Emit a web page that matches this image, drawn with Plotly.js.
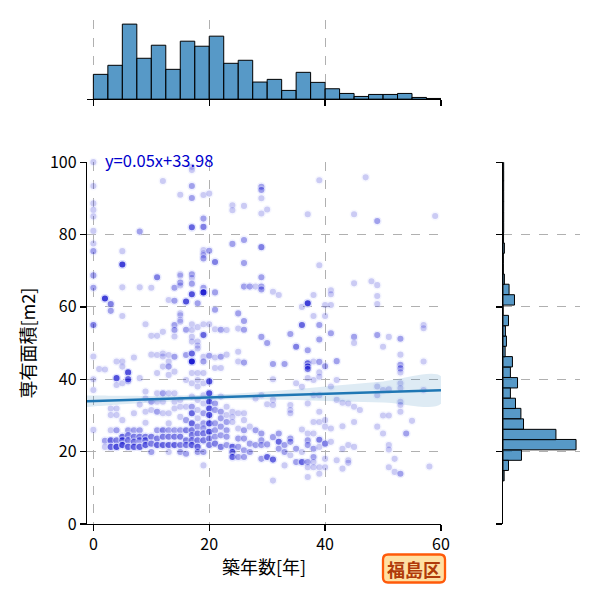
<!DOCTYPE html>
<html>
<head>
<meta charset="utf-8">
<script src="https://cdn.plot.ly/plotly-3.0.1.min.js"></script>
<style>html,body{margin:0;padding:0;background:#fff;}</style>
</head>
<body>
<div id="chart" style="width:600px;height:600px;"></div>
<script>
// ---- scatter data: building age (years) groups, areas (m2), and repeat counts of identical listings ----
const groupAge = [0,1,2,3,4,5,6,7,8,9,10,11,12,13,14,15,16,17,18,19,20,21,22,23,24,25,26,27,28,29,30,31,32,33,34,35,36,37,38,39,40,41,42,43,44,45,46,47,48,49,50,51,52,53,54,55,57,58,59];
const groupArea = [
 [100,93.4,88.6,86.8,85,81,77.5,75.4,68.7,65.3,55,46.3,40,37,26],
 [42.8],
 [62.3,42.7,23,21.3],
 [60.8,58.9,31.9,30.1,25.9,23.1,21.3],
 [44.9,40.3,38.4,31.9,30.1,25.9,23.1,21.3],
 [75.4,71.7,65.4,57.5,44.9,43.5,38.9,28.7,24.1,23.1,21.8],
 [41.9,40,39.4,25.9,24.5,23.1,21.3],
 [46,30.6,25.9,24.1,22.7,21.3],
 [80.8,65.4,40.3,33,25.9,24.1,23.1,21.3],
 [55.2,36.6,34.7,31,28,24.1,23.1,21.8],
 [65.3,52,46.8,33.8,31.5,24.1,22.2,19.9],
 [68.2,52,46.7,41.7,36.1,33.8,31,25.9,23.6,21.8],
 [94.8,53.1,47.1,46.3,43.5,36.1,33.8,30.6,25.9,24.1,21.8],
 [61.9,46.7,44.9,43.5,41.2,36.1,30.6,27.8,25.9,24.1,21.8,19.9],
 [65.3,61.7,55,53.6,51.8,46.2,42.1,36.1,33.8,31.9,25.9,24.1,21.8],
 [91,69,68.6,66.7,65.9,58.2,57.7,56.4,55.9,34.3,32.4,29.6,25.9,24.1,21.8,19.9],
 [61.5,53.7,46.7,39.8,32.4,28.7,25.9,23.1,21.8,19.4],
 [98.7,97.8,93.4,90.1,82,69,68,66.4,63.5,55.2,53.6,51.7,50.4,47.1,44.9,41.7,38.9,35.2,32.4,30.6,27.8,25.9,24.5,23.1,21.8],
 [61,54.4,50.4,49.3,48.5,41.7,39.8,38,34.3,31.5,29.2,26.9,25,23.1,21.3,19.9],
 [90.9,84.4,82.1,75.7,74.8,74.3,73.4,65.3,64,55.2,52.3,52.2,46.2,44.9,41.7,38.9,35.6,33.3,30.6,27.8,26.4,25,23.1,19.9,16.2],
 [91.3,75.5,55.2,46.5,39.4,36.1,33.8,31.9,30.1,27.8,25.5,23.6,21.8],
 [72.4,64,59.2,53.8,46,43.1,33.3,31.5,27.8,25.9,24.1,22.2],
 [53.7,46.2,43.1,35.2,31,29.2,26.9,24.5,21.3],
 [53.6,46.8,32.4,30.1,28.2,25.9,24.1,21.8],
 [88.1,86.7,77.4,31,29.6,28.2,21.3,19.9,18.5],
 [58.2,54,47.6,44.9,30.6,26.4,23.6,21.3,18.5],
 [87.9,78.5,72.1,65.6,56.1,53.7,44.6,30.6,28.7,25.9,23.6,20.4,18.5],
 [65.6,26.9,22.2,19.9],
 [65.6,34.7,25.9,21.8],
 [93.2,92.3,90,85.8,76.5,68.2,65.6,64.8,51.7,35.6,25,23.1,21.8,18],
 [86.9,50,33.1,22,18.5],
 [64.2,44.2,40,34.3,32.9,24,17.8,12],
 [63.3,25,22.7,20.8],
 [44.2,21.8,19.9,16.2],
 [52.5,32.9,31.5,30.6,23.6,22.7,19],
 [49,38.9,20.8,17.1],
 [60,55,37.9,26.1,19.9,17.1],
 [85.6,61,48,44.4,43.5,42.8,40.3,33.3,25,23.1,21.8,17.1,15.7,13],
 [63.3,57.5,44.9,39.8,35.6,28.2,25,20.8,18.5,17.1,15.7],
 [95,71.5,55,51,44.8,41.9,40.7,35.6,31,28.2,23.3,21.3,15.7,13.9],
 [60.5,57.5,43.6,28.7,26.9,22.2,18,15.7],
 [64.6,63.5,60.5,52.7,38,26.4,22.7],
 [45,39.8,34.3,17.6],
 [33.5,27,20.8,15.3],
 [33.3,21.8,17.6,16.9],
 [85.6,66.5,51.7,50,32.4,28.2,21.3],
 [31.5],
 [95.8],
 [67.1],
 [83.7,66,63,60.8,52.2,38,35.6,26.9],
 [49,37,30,25],
 [51.7,37.2,30,21.8,20.6,15.7],
 [18,14.4],
 [51.2,46.8,44,43,41.9,38.9,37.5,33.8,32.9,31,13.9],
 [25],
 [28.5],
 [55,54.1,44.9,37],
 [15.9],
 [85.1]
];
const groupReps = [
 [1,1,1,1,1,1,1,2,2,2,3,1,1,1,1],
 [1],
 [6,1,2,1],
 [3,2,1,1,1,4,4],
 [1,5,1,1,1,2,3,5],
 [1,6,1,1,1,1,1,1,4,3,5],
 [5,5,1,2,3,3,4],
 [1,1,2,3,3,4],
 [2,1,1,1,2,3,2,4],
 [1,1,1,1,1,3,3,4],
 [1,1,1,2,1,3,3,2],
 [3,1,1,1,1,1,2,2,3,4],
 [1,1,1,1,1,2,1,1,3,3,4],
 [1,1,1,2,1,1,1,1,2,3,4,1],
 [2,2,2,2,1,2,1,1,1,1,2,3,4],
 [1,1,1,2,1,1,1,1,1,1,1,1,2,3,3,2],
 [5,2,2,1,1,2,3,3,3,2],
 [1,1,2,2,4,2,1,2,5,1,1,1,1,4,9,1,1,1,2,4,4,3,3,3,4],
 [2,1,1,1,1,1,1,1,1,1,1,2,3,3,4,2],
 [1,2,3,1,1,1,2,2,8,1,1,3,1,2,1,1,1,1,2,2,2,3,3,2,1],
 [1,2,1,2,5,5,5,5,5,5,5,3,3],
 [3,2,2,1,1,1,2,2,2,2,2,3],
 [2,2,1,1,2,2,2,2,3],
 [1,1,1,1,2,2,2,2],
 [1,1,2,1,1,1,4,4,4],
 [2,1,1,1,1,1,2,2,2],
 [1,2,2,2,2,2,2,1,1,2,2,2,2],
 [2,1,2,2],
 [1,1,2,2],
 [2,2,1,1,3,2,2,2,2,1,2,2,2,2],
 [1,2,1,2,4],
 [1,2,1,1,1,2,4,1],
 [1,2,4,2],
 [2,2,2,1],
 [2,1,1,1,2,2,1],
 [3,1,2,2],
 [1,4,1,1,1,4],
 [1,6,2,4,4,3,1,1,1,2,2,2,1,1],
 [1,1,1,1,1,1,1,2,2,1,1],
 [1,1,2,2,2,1,1,1,1,1,3,1,1,1],
 [1,1,2,1,1,3,1,1],
 [1,1,1,2,1,1,1],
 [2,1,1,1],
 [1,1,1,1],
 [1,1,1,1],
 [1,1,2,1,1,1,1],
 [1],
 [1],
 [1],
 [2,1,1,1,2,1,1,1],
 [1,1,1,1],
 [1,1,1,1,1,1],
 [1,1],
 [2,1,2,2,1,1,1,1,1,1,2],
 [2],
 [1],
 [1,1,1,1],
 [1],
 [1]
];

// ---- marginal histograms (bin lower edges, bin widths and counts) ----
const ageBinLeft = [0,2.5,5,7.5,10,12.5,15,17.5,20,22.5,25,27.5,30,32.5,35,37.5,40,42.5,45,47.5,50,52.5,55,57.5];
const ageBinWidth = 2.5;
const ageBinCount = [74,101,224,122,161,89,173,158,188,107,116,51,59,26,80,50,31,17,8,14,14,17,5,2];
const areaBinLeft = [11.9,14.8,17.6,20.5,23.3,26.2,29.1,31.9,34.8,37.6,40.5,43.4,46.2,49.1,51.9,54.8,57.7,60.5,63.4,66.2,69.1,72.0,74.8,77.7,80.5,83.4,86.3,89.1,92.0,94.8,97.7];
const areaBinWidth = 2.86;
const areaBinCount = [7,37,126,500,362,140,122,85,50,99,50,64,14,23,16,37,0,78,41,9,2,2,9,3,4,4,4,4,4,4,4];

// ---- regression fit and confidence band ----
const fitSlope = 0.05;
const fitIntercept = 33.98;
const ciX = [-1.1,0,10,20,30,40,50,60];
const ciLow = [32.3,32.5,33.6,34.3,34.4,34.0,33.6,33.2];
const ciHigh = [35.5,35.5,35.4,35.7,36.6,38.0,39.4,40.8];

// ---- ticks / labels ----
const ageTicks = [0,20,40,60];
const areaTicks = [0,20,40,60,80,100];
const xTitle = '築年数[年]';
const yTitle = '専有面積[m2]';
const wardLabel = '福島区';
const eqText = 'y=' + fitSlope.toFixed(2) + 'x+' + fitIntercept.toFixed(2);

const xRange = [-1.1, 60];
const yRange = [0, 100];

const ptX = [], ptY = [];
groupAge.forEach((a, i) => {
  groupArea[i].forEach((v, j) => {
    for (let k = 0; k < groupReps[i][j]; k++) { ptX.push(a); ptY.push(v); }
  });
});

const FONT = '"Noto Sans CJK JP", "Noto Sans", sans-serif';
const histFill = 'rgba(31,119,180,0.75)';

const scatter = {
  type: 'scatter', mode: 'markers', x: ptX, y: ptY, xaxis: 'x', yaxis: 'y',
  marker: {size: 7.5, color: '#0000cd', opacity: 0.2, line: {color: '#d8dcff', width: 1.4}},
  cliponaxis: false, hoverinfo: 'skip'
};
const band = {
  type: 'scatter', mode: 'lines', xaxis: 'x', yaxis: 'y',
  x: ciX.concat(ciX.slice().reverse()),
  y: ciHigh.concat(ciLow.slice().reverse()),
  fill: 'toself', fillcolor: 'rgba(31,119,180,0.15)',
  line: {width: 0, shape: 'spline'}, hoverinfo: 'skip'
};
const fitLine = {
  type: 'scatter', mode: 'lines', xaxis: 'x', yaxis: 'y',
  x: xRange, y: xRange.map(v => fitIntercept + fitSlope * v),
  line: {color: '#1f77b4', width: 2.5}, hoverinfo: 'skip'
};
const topHist = {
  type: 'bar', xaxis: 'x2', yaxis: 'y2',
  x: ageBinLeft.map(v => v + ageBinWidth / 2), y: ageBinCount, width: ageBinWidth,
  marker: {color: histFill, line: {color: 'black', width: 1}}, hoverinfo: 'skip'
};
const rightHist = {
  type: 'bar', orientation: 'h', xaxis: 'x3', yaxis: 'y3',
  y: areaBinLeft.map(v => v + areaBinWidth / 2), x: areaBinCount, width: areaBinWidth,
  marker: {color: histFill, line: {color: 'black', width: 1}}, hoverinfo: 'skip'
};

const gridStyle = {showgrid: true, gridcolor: '#b0b0b0', griddash: 'dash', gridwidth: 1, zeroline: false};
const lineStyle = {showline: true, linecolor: 'black', linewidth: 1.25, ticks: 'outside', ticklen: 6, tickwidth: 1.25, tickcolor: 'black'};

const boxPath = 'M -26,-14 L 26,-14 Q 31,-14 31,-9 L 31,9 Q 31,14 26,14 L -26,14 Q -31,14 -31,9 L -31,-9 Q -31,-14 -26,-14 Z';

const layout = {
  width: 600, height: 600,
  margin: {l: 87, r: 20, t: 20, b: 76},
  paper_bgcolor: 'white', plot_bgcolor: 'white',
  showlegend: false, bargap: 0,
  font: {family: FONT, size: 16, color: 'black'},
  xaxis: Object.assign({domain: [0, 0.718], anchor: 'y', range: xRange, tickvals: ageTicks,
    tickfont: {size: 16}, title: {text: xTitle, font: {size: 18}, standoff: 7}}, gridStyle, lineStyle),
  yaxis: Object.assign({domain: [0, 0.718], anchor: 'x', range: yRange, tickvals: areaTicks,
    tickfont: {size: 16}, title: {text: yTitle, font: {size: 18}, standoff: 9}}, gridStyle, lineStyle),
  xaxis2: Object.assign({domain: [0, 0.718], anchor: 'y2', range: xRange, tickvals: ageTicks,
    showticklabels: false}, gridStyle, lineStyle),
  yaxis2: {domain: [0.843, 1], anchor: 'x2', range: [0, 236.3], showgrid: false, showline: false,
    ticks: '', showticklabels: false, zeroline: false},
  xaxis3: {domain: [0.844, 1], anchor: 'y3', range: [0, 527], showgrid: false, showline: false,
    ticks: '', showticklabels: false, zeroline: false},
  yaxis3: Object.assign({domain: [0, 0.718], anchor: 'x3', range: yRange, tickvals: areaTicks,
    showticklabels: false}, gridStyle, lineStyle),
  shapes: [{
    type: 'path', xref: 'paper', yref: 'paper', xsizemode: 'pixel', ysizemode: 'pixel',
    xanchor: 0.6633, yanchor: -0.0883, path: boxPath,
    fillcolor: '#ffe0a3', line: {color: '#ff5a0a', width: 2.3}, layer: 'above'
  }],
  annotations: [
    {xref: 'x', yref: 'paper', x: 1.6, y: 0.7222, xanchor: 'left', yanchor: 'middle', showarrow: false,
     text: eqText, font: {family: FONT, size: 16.5, color: '#0000cd'}},
    {xref: 'paper', yref: 'paper', x: 0.6633, y: -0.0883, xanchor: 'center', yanchor: 'middle', showarrow: false,
     text: '<b>' + wardLabel + '</b>', font: {family: FONT, size: 18, color: '#b03a0a'}}
  ]
};

Plotly.newPlot('chart', [scatter, band, fitLine, topHist, rightHist], layout, {staticPlot: true, displayModeBar: false});
</script>
</body>
</html>
